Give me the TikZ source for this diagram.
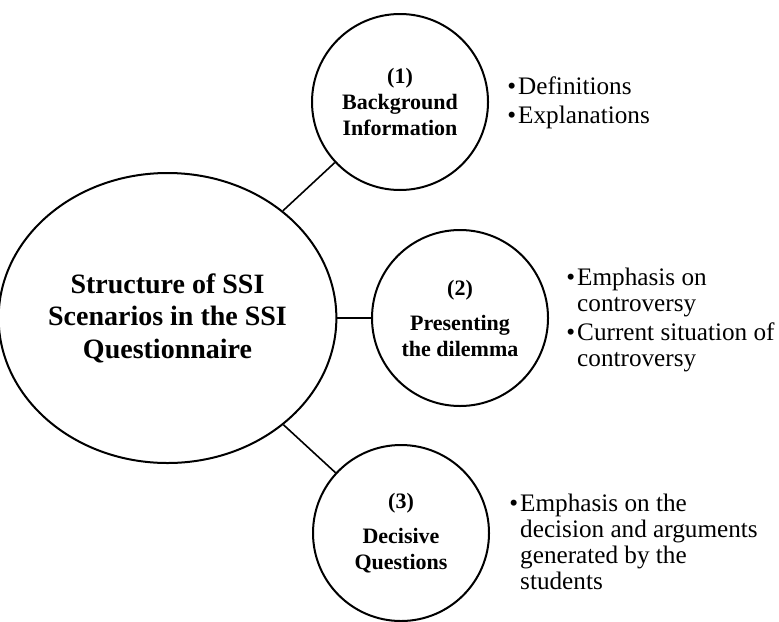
\documentclass[tikz,border=0pt]{standalone}
\usepackage{fontspec}
\setmainfont{Liberation Serif}
\usetikzlibrary{shapes.geometric}

\begin{document}
\begin{tikzpicture}[
		x=0.5pt, y=-0.5pt,
		part/.style = {circle, draw, line width=1pt, minimum size=88pt, inner sep=0pt, align=center, font=\fontsize{11}{13}\selectfont\bfseries},
		notes/.style = {anchor=base west, inner sep=0pt, font=\fontsize{12.6}{13}\selectfont},
		link/.style = {line width=0.8pt},
	]
	\path[use as bounding box] (0,0) rectangle (779,621);
	\node[ellipse, draw, line width=1pt, minimum width=155.5pt, minimum height=145pt, inner sep=0pt, align=center, font=\fontsize{14}{16.25}\selectfont\bfseries] (ssi) at (167.5,318) {Structure of SSI\\Scenarios in the SSI\\Questionnaire};
	\node[part] (bg) at (400,102) {(1)\\Background\\Information};
	\node[part] (dil) at (460,318) {(2)\\[4.5pt]Presenting\\the dilemma};
	\node[part] (dq) at (401,533) {(3)\\[4.5pt]Decisive\\Questions};
	\draw[link] (ssi) -- (bg);
	\draw[link] (ssi) -- (dil);
	\draw[link] (ssi) -- (dq);
	% what each part holds
	\node[notes] (bg-notes) at (507,94) {\begin{tabular}[t]{@{}l@{\hspace{1pt}}l@{}}
			\textbullet & Definitions\\[1.5pt]
			\textbullet & Explanations
		\end{tabular}};
	\node[notes] (dil-notes) at (566,285) {\begin{tabular}[t]{@{}l@{\hspace{1pt}}l@{}}
			\textbullet & Emphasis on\\
			            & controversy\\[1.5pt]
			\textbullet & Current situation of\\
			            & controversy
		\end{tabular}};
	\node[notes] (dq-notes) at (509,511) {\begin{tabular}[t]{@{}l@{\hspace{1pt}}l@{}}
			\textbullet & Emphasis on the\\
			            & decision and arguments\\
			            & generated by the\\
			            & students
		\end{tabular}};
\end{tikzpicture}
\end{document}
